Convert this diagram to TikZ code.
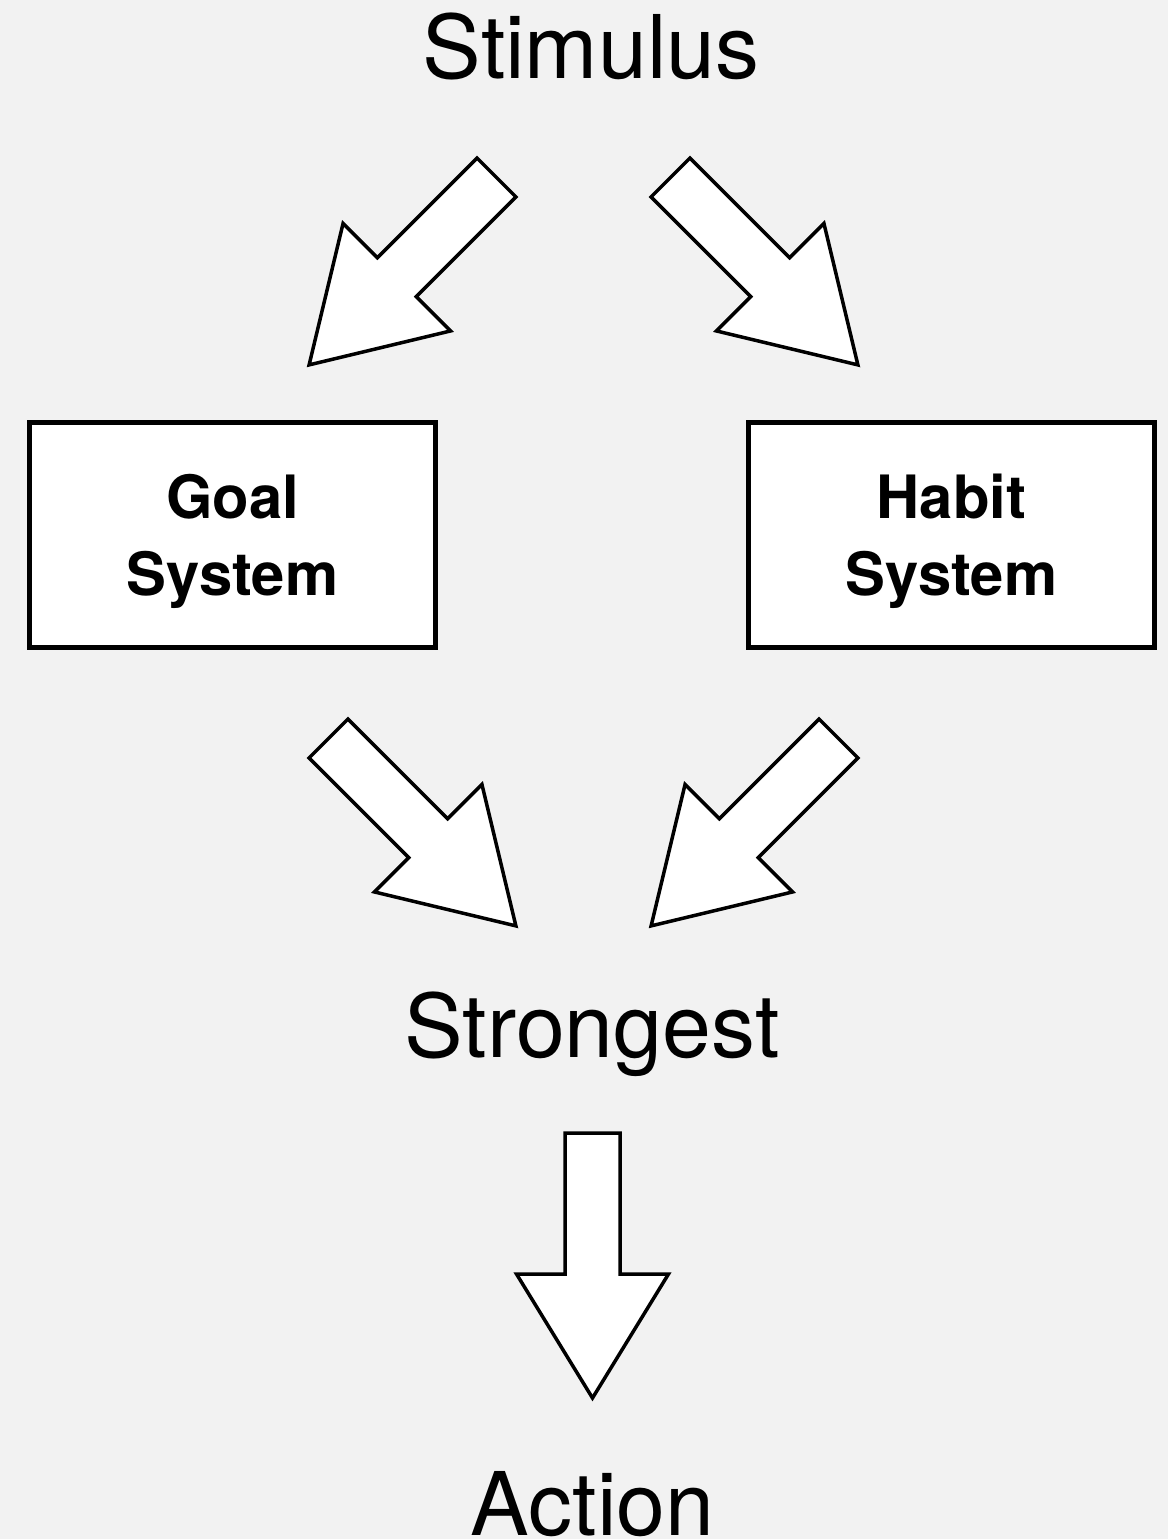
\documentclass[tikz,border=0pt]{standalone}
\usepackage{fontspec}
\setmainfont{TeX Gyre Heros}
\usetikzlibrary{positioning}
\definecolor{paper}{HTML}{F2F2F2}

\begin{document}
\begin{tikzpicture}[x=0.1mm,y=-0.1mm,
    Label/.style={font=\fontsize{25}{29}\selectfont, inner sep=0pt, anchor=base},
    System/.style={draw, line width=0.45mm, fill=white,
      minimum width=40.6mm, minimum height=22.5mm, align=center,
      text depth=0pt, font=\fontsize{17}{22}\selectfont\bfseries},
    fatarrow/.pic={
      \draw[line width=0.35mm, fill=white, line join=miter]
        (-27.5,0) -- (27.5,0) -- (27.5,141) -- (76,141) -- (0,265)
        -- (-76,141) -- (-27.5,141) -- cycle;
    }]
  % background
  \fill[paper] (0,0) rectangle (1168,1539);
  \useasboundingbox (0,0) rectangle (1168,1539);

  \node[Label] (stimulus)  at (591,78)    {Stimulus};
  \node[System] (goal)     at (232.5,535) {Goal\\System};
  \node[System] (habit)    at (951.5,535) {Habit\\System};
  \node[Label] (strongest) at (592,1057)  {Strongest};
  \node[Label] (action)    at (592.5,1535) {Action};

  % block arrows
  \pic[rotate=-45] at (496.5,177.5) {fatarrow}; % stimulus -> goal
  \pic[rotate=45]  at (670.5,177.5) {fatarrow}; % stimulus -> habit
  \pic[rotate=45]  at (328.5,738.5) {fatarrow}; % goal -> strongest
  \pic[rotate=-45] at (838.5,738.5) {fatarrow}; % habit -> strongest
  \pic             at (592.5,1133)  {fatarrow}; % strongest -> action
\end{tikzpicture}
\end{document}
